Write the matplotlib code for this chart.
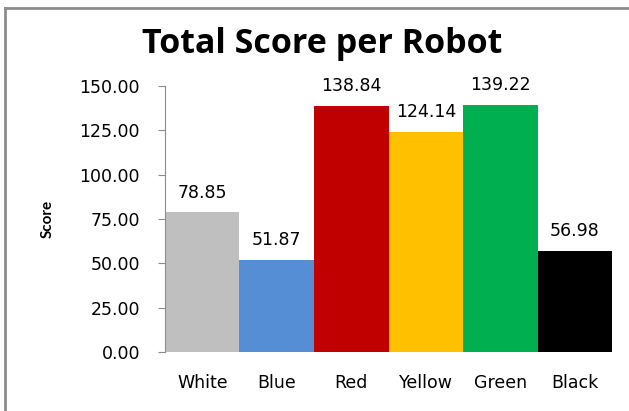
import matplotlib.pyplot as plt
from matplotlib.lines import Line2D

# Robot scores
robots = ['White', 'Blue', 'Red', 'Yellow', 'Green', 'Black']
scores = [78.85, 51.87, 138.84, 124.14, 139.22, 56.98]
bar_colors = ['#bfbfbf', '#558ed5', '#c00000', '#ffc000', '#00b050', '#000000']
yticks = [0, 25, 50, 75, 100, 125, 150]

fig = plt.figure(figsize=(6.29, 4.11), dpi=100)
ax = fig.add_axes([0.2623, 0.1436, 0.7107, 0.6472])

x = range(len(robots))
ax.bar(x, scores, width=1.0, color=bar_colors)
for i, v in zip(x, scores):
    ax.text(i, v + 6, f'{v:.2f}', ha='center', va='bottom', fontsize=12.5,
            family='DejaVu Sans')

ax.set_xlim(-0.5, len(robots) - 0.5)
ax.set_ylim(0, 150)
ax.set_yticks(yticks)
ax.set_yticklabels([f'{t:.2f}' for t in yticks], fontsize=12.5)
ax.set_xticks(list(x))
ax.set_xticklabels(robots, fontsize=12.5)
ax.tick_params(axis='x', length=0, pad=16)
ax.tick_params(axis='y', length=5, color='#8c8c8c', pad=13)

for side in ['top', 'right', 'bottom']:
    ax.spines[side].set_visible(False)
ax.spines['left'].set_color('#8c8c8c')

ax.set_ylabel('Score', fontsize=11, fontweight='bold', family='Lato', labelpad=18)
fig.text(0.512, 0.893, 'Total Score per Robot', ha='center', va='center',
         fontsize=24.5, fontweight='bold', family='Open Sans')

# outer border (top and left only visible)
fig.add_artist(Line2D([0.008, 0.008], [0.0, 0.981], color='#8c8c8c', lw=2))
fig.add_artist(Line2D([0.008, 1.0], [0.981, 0.981], color='#8c8c8c', lw=2))

plt.savefig('out.png', dpi=100)
